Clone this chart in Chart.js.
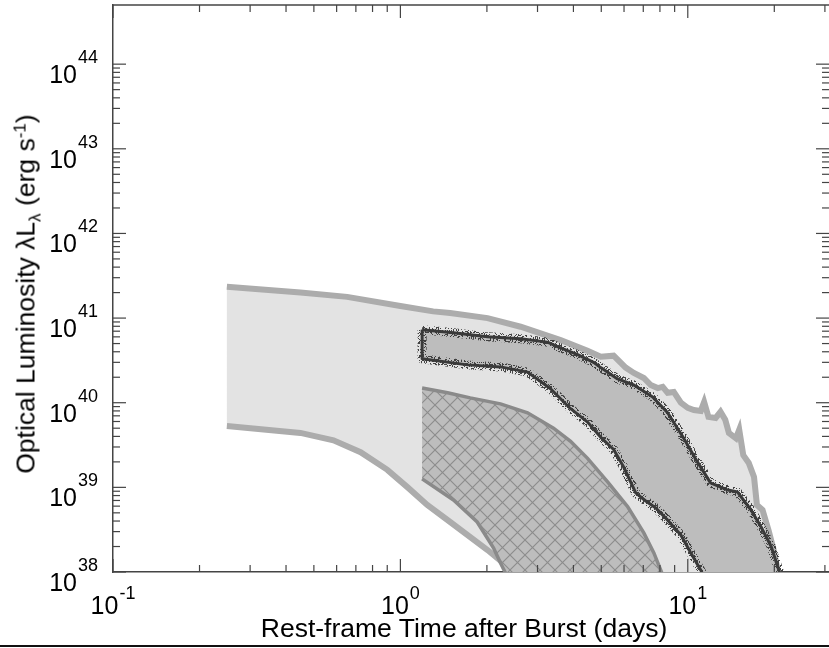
<!DOCTYPE html>
<html>
<head>
<meta charset="utf-8">
<script src="https://cdn.jsdelivr.net/npm/chart.js@4.4.1/dist/chart.umd.min.js"></script>
<style>
  html, body { margin: 0; padding: 0; background: #fff; }
  #wrap { position: relative; width: 829px; height: 648px; overflow: hidden;
          font-family: 'Liberation Sans', Arial, Helvetica, sans-serif; color: #000; }
  #chart { position: absolute; left: 0; top: 0; }
  .axis-title { position: absolute; font-size: 26.5px; line-height: 27px; white-space: nowrap; }
  #xTitle { left: 106px; width: 716px; top: 615px; text-align: center; }
  #yTitle { left: 26px; top: 294px; transform: translate(-50%, -50%) rotate(-90deg); }
  .axis-title sub, .axis-title sup { font-size: 0.64em; line-height: 0; position: relative; vertical-align: baseline; }
  .axis-title sub { top: 0.35em; }
  .axis-title sup { top: -0.55em; }
  #footLine { position: absolute; left: 0; top: 645px; width: 829px; height: 2px; background: #111; }
</style>
</head>
<body>
<div id="wrap">
  <canvas id="chart" width="829" height="648"></canvas>
  <div class="axis-title" id="xTitle">Rest-frame Time after Burst (days)</div>
  <div class="axis-title" id="yTitle">Optical Luminosity &lambda;L<sub>&lambda;</sub> (erg s<sup>-1</sup>)</div>
  <div id="footLine"></div>
</div>
<script>
// Rest-frame time (days) and luminosity (erg/s).

// outer light-grey envelope
const outerUpperT = [0.249, 0.449, 0.653, 1.0, 1.30, 1.49, 2.01, 2.62, 3.61, 4.48, 4.98, 5.52, 6.08, 6.49, 7.03, 7.43, 7.86, 8.18, 8.51, 8.94, 9.46, 10.0, 10.5, 11.1, 11.4, 11.8, 12.5, 13.0, 13.5, 13.9, 14.7, 15.1, 15.6, 16.3, 17.0, 17.4, 18.2, 19.1, 19.9, 20.6, 21.1];
const outerUpperL = [2.34e41, 2.0e41, 1.78e41, 1.39e41, 1.2e41, 1.15e41, 1.0e41, 7.9e40, 5.5e40, 4.1e40, 3.5e40, 3.6e40, 2.6e40, 2.25e40, 1.96e40, 1.62e40, 1.49e40, 1.54e40, 1.31e40, 1.34e40, 1.0e40, 8.7e39, 8.2e39, 8.0e39, 1.02e40, 6.8e39, 6.6e39, 7.8e39, 6.3e39, 4.4e39, 3.8e39, 4.8e39, 2.4e39, 1.94e39, 1.33e39, 6.2e38, 5.4e38, 3.1e38, 1.82e38, 1.0e38, 6.1e37];
const outerLowerT = [0.249, 0.449, 0.585, 0.727, 0.901, 1.06, 1.24, 1.49, 2.01, 2.28, 2.52, 2.9, 3.4, 4.0, 4.8, 5.5, 6.3, 7.5];
const outerLowerL = [5.3e39, 4.4e39, 3.6e39, 2.6e39, 1.61e39, 1.0e39, 6.2e38, 3.9e38, 1.82e38, 1.28e38, 1.05e38, 1.1e38, 1.03e38, 1.08e38, 1.0e38, 1.04e38, 0.93e38, 0.8e38];

// dark stippled band
const darkUpperT = [1.19, 1.53, 2.01, 2.62, 3.25, 3.52, 4.14, 4.70, 4.98, 5.70, 6.49, 7.55, 8.51, 9.68, 10.8, 12.0, 13.8, 14.9, 16.6, 18.0, 19.5, 20.9, 21.5];
const darkUpperL = [7.3e40, 6.7e40, 6.0e40, 5.7e40, 5.2e40, 4.6e40, 3.7e40, 3.0e40, 2.6e40, 1.91e40, 1.62e40, 1.17e40, 7.6e39, 3.8e39, 2.0e39, 1.13e39, 9.3e38, 8.8e38, 5.4e38, 3.4e38, 2.0e38, 9.7e37, 6e37];
const darkLowerT = [1.19, 1.71, 2.23, 2.77, 3.33, 3.91, 4.48, 4.98, 5.52, 5.98, 6.59, 7.14, 7.74, 8.51, 9.46, 10.2, 11.1, 11.6];
const darkLowerL = [3.3e40, 2.8e40, 2.65e40, 2.3e40, 1.46e40, 8.5e39, 5.9e39, 3.9e39, 2.8e39, 1.74e39, 8.6e38, 6.9e38, 5.7e38, 4.1e38, 2.74e38, 1.72e38, 1.05e38, 7.6e37];

// cross-hatched band
const hatchUpperT = [1.19, 1.46, 1.75, 2.23, 2.77, 3.41, 3.91, 4.48, 5.26, 6.18, 7.03, 7.62, 8.18, 8.6];
const hatchUpperL = [1.49e40, 1.31e40, 1.14e40, 9.7e39, 7.6e39, 5.0e39, 3.5e39, 2.2e39, 1.16e39, 5.9e38, 2.9e38, 1.68e38, 9.2e37, 6e37];
const hatchLowerT = [1.19, 1.53, 1.85, 2.11, 2.23, 2.34, 2.45];
const hatchLowerL = [1.26e39, 7.1e38, 3.9e38, 1.92e38, 1.28e38, 9.2e37, 6e37];

// axes
const xRange = [0.1, 31];
const yRange = [1e38, 5e44];
const xTickValues = [0.1, 1, 10];
const xTickExps = ['-1', '0', '1'];
const yTickValues = [1e38, 1e39, 1e40, 1e41, 1e42, 1e43, 1e44];
const yTickExps = ['38', '39', '40', '41', '42', '43', '44'];
const minorSteps = [2, 3, 4, 5, 6, 7, 8, 9];

const FONT = "'Liberation Sans', Arial, Helvetica, sans-serif";

function pts(ts, ls) {
    return ts.map((t, i) => ({ x: t, y: ls[i] }));
}

function makeHatch() {
    const c = document.createElement('canvas');
    c.width = 15; c.height = 15;
    const g = c.getContext('2d');
    g.fillStyle = '#bdbdbd';
    g.fillRect(0, 0, 15, 15);
    g.strokeStyle = '#8c8c8c';
    g.lineWidth = 1.1;
    g.beginPath();
    g.moveTo(-1, -1); g.lineTo(16, 16);
    g.moveTo(16, -1); g.lineTo(-1, 16);
    g.stroke();
    return g.createPattern(c, 'repeat');
}

// fixed speckle texture for the dark band edge
function makeStipple() {
    const n = 32;
    const c = document.createElement('canvas');
    c.width = n; c.height = n;
    const g = c.getContext('2d');
    const img = g.createImageData(n, n);
    for (let yy = 0; yy < n; yy++) {
        for (let xx = 0; xx < n; xx++) {
            let h = Math.imul(xx + 7, 374761393) ^ Math.imul(yy + 3, 668265263);
            h = Math.imul(h ^ (h >>> 13), 1274126177);
            h = (h ^ (h >>> 16)) >>> 0;
            const k = (yy * n + xx) * 4;
            img.data[k] = img.data[k + 1] = img.data[k + 2] = 50;
            img.data[k + 3] = (h % 100) < 32 ? 230 : 0;
        }
    }
    g.putImageData(img, 0, 0);
    return g.createPattern(c, 'repeat');
}

const outerPoly = pts(outerUpperT, outerUpperL).concat(pts(outerLowerT, outerLowerL).reverse());
const hatchPoly = pts(hatchUpperT, hatchUpperL).concat(pts(hatchLowerT, hatchLowerL).reverse());
const darkPoly = pts(darkUpperT, darkUpperL).concat(pts(darkLowerT, darkLowerL).reverse());
darkPoly.push({ x: darkUpperT[0], y: darkUpperL[0] });

const NONE = 'rgba(0,0,0,0)';

const axisDecor = {
    id: 'axisDecor',
    afterDraw(chart) {
        const { ctx, chartArea: a, scales: { x, y } } = chart;
        ctx.save();
        ctx.strokeStyle = '#444';
        ctx.lineWidth = 1.5;
        ctx.beginPath();
        ctx.moveTo(a.left, a.top);
        ctx.lineTo(a.right, a.top);
        ctx.stroke();

        ctx.lineWidth = 1.2;
        const seg = (x1, y1, x2, y2) => {
            ctx.beginPath(); ctx.moveTo(x1, y1); ctx.lineTo(x2, y2); ctx.stroke();
        };
        const MAJ = 13, MIN = 7;

        xTickValues.forEach(d => {
            const px = x.getPixelForValue(d);
            seg(px, a.bottom, px, a.bottom - MAJ);
            seg(px, a.top, px, a.top + MAJ);
            minorSteps.forEach(m => {
                if (d * m > xRange[1]) return;
                const mx = x.getPixelForValue(d * m);
                seg(mx, a.bottom, mx, a.bottom - MIN);
                seg(mx, a.top, mx, a.top + MIN);
            });
        });
        yTickValues.forEach((d, i) => {
            const py = y.getPixelForValue(d);
            seg(a.left, py, a.left + MAJ, py);
            seg(a.right, py, a.right - MAJ, py);
            if (i === yTickValues.length - 1) return;
            minorSteps.forEach(m => {
                const my = y.getPixelForValue(d * m);
                seg(a.left, my, a.left + MIN, my);
                seg(a.right, my, a.right - MIN, my);
            });
        });

        // tick labels: 10 with superscript exponent
        ctx.fillStyle = '#000';
        ctx.textBaseline = 'alphabetic';
        ctx.textAlign = 'left';
        const big = '25px ' + FONT, small = '18px ' + FONT;
        xTickValues.forEach((d, i) => {
            const px = x.getPixelForValue(d);
            ctx.font = big;
            const w1 = ctx.measureText('10').width;
            ctx.font = small;
            const w2 = ctx.measureText(xTickExps[i]).width;
            const left = px - (w1 + w2 + 1) / 2;
            ctx.font = big;
            ctx.fillText('10', left, a.bottom + 42);
            ctx.font = small;
            ctx.fillText(xTickExps[i], left + w1 + 1, a.bottom + 27);
        });
        yTickValues.forEach((d, i) => {
            const py = y.getPixelForValue(d);
            ctx.font = big;
            ctx.textAlign = 'right';
            ctx.fillText('10', a.left - 36, py + 19);
            ctx.font = small;
            ctx.textAlign = 'left';
            ctx.fillText(yTickExps[i], a.left - 35, py - 1);
        });
        ctx.restore();
    }
};

const lineBase = { pointRadius: 0, pointHoverRadius: 0, tension: 0, fill: false };

new Chart(document.getElementById('chart'), {
    type: 'line',
    data: {
        datasets: [
            { ...lineBase, data: outerPoly, fill: 'shape', backgroundColor: '#e3e3e3', borderColor: NONE, borderWidth: 0, order: 10 },
            { ...lineBase, data: pts(outerUpperT, outerUpperL), borderColor: '#acacac', borderWidth: 6, order: 9 },
            { ...lineBase, data: pts(outerLowerT, outerLowerL), borderColor: '#acacac', borderWidth: 6, order: 9 },
            { ...lineBase, data: hatchPoly, fill: 'shape', backgroundColor: makeHatch(), borderColor: NONE, borderWidth: 0, order: 8 },
            { ...lineBase, data: pts(hatchUpperT, hatchUpperL), borderColor: '#8a8a8a', borderWidth: 3.5, order: 7 },
            { ...lineBase, data: pts(hatchLowerT, hatchLowerL), borderColor: '#8a8a8a', borderWidth: 3.5, order: 7 },
            { ...lineBase, data: darkPoly, fill: 'shape', backgroundColor: '#bdbdbd', borderColor: makeStipple(), borderWidth: 9, borderJoinStyle: 'round', order: 6 },
            { ...lineBase, data: darkPoly, borderColor: '#3a3a3a', borderWidth: 3, borderJoinStyle: 'round', order: 5 },
        ],
    },
    options: {
        responsive: false,
        devicePixelRatio: 1,
        animation: false,
        events: [],
        layout: { padding: { left: 113, right: 0, top: 5, bottom: 76 } },
        plugins: { legend: { display: false }, tooltip: { enabled: false } },
        scales: {
            x: {
                type: 'logarithmic', position: 'bottom', min: xRange[0], max: xRange[1], z: 1,
                grid: { display: false, drawTicks: false }, ticks: { display: false },
                border: { display: true, color: '#444', width: 1.5 },
            },
            y: {
                type: 'logarithmic', position: 'left', min: yRange[0], max: yRange[1], z: 1,
                grid: { display: false, drawTicks: false }, ticks: { display: false },
                border: { display: true, color: '#444', width: 1.5 },
            },
        },
    },
    plugins: [axisDecor],
});
</script>
</body>
</html>
